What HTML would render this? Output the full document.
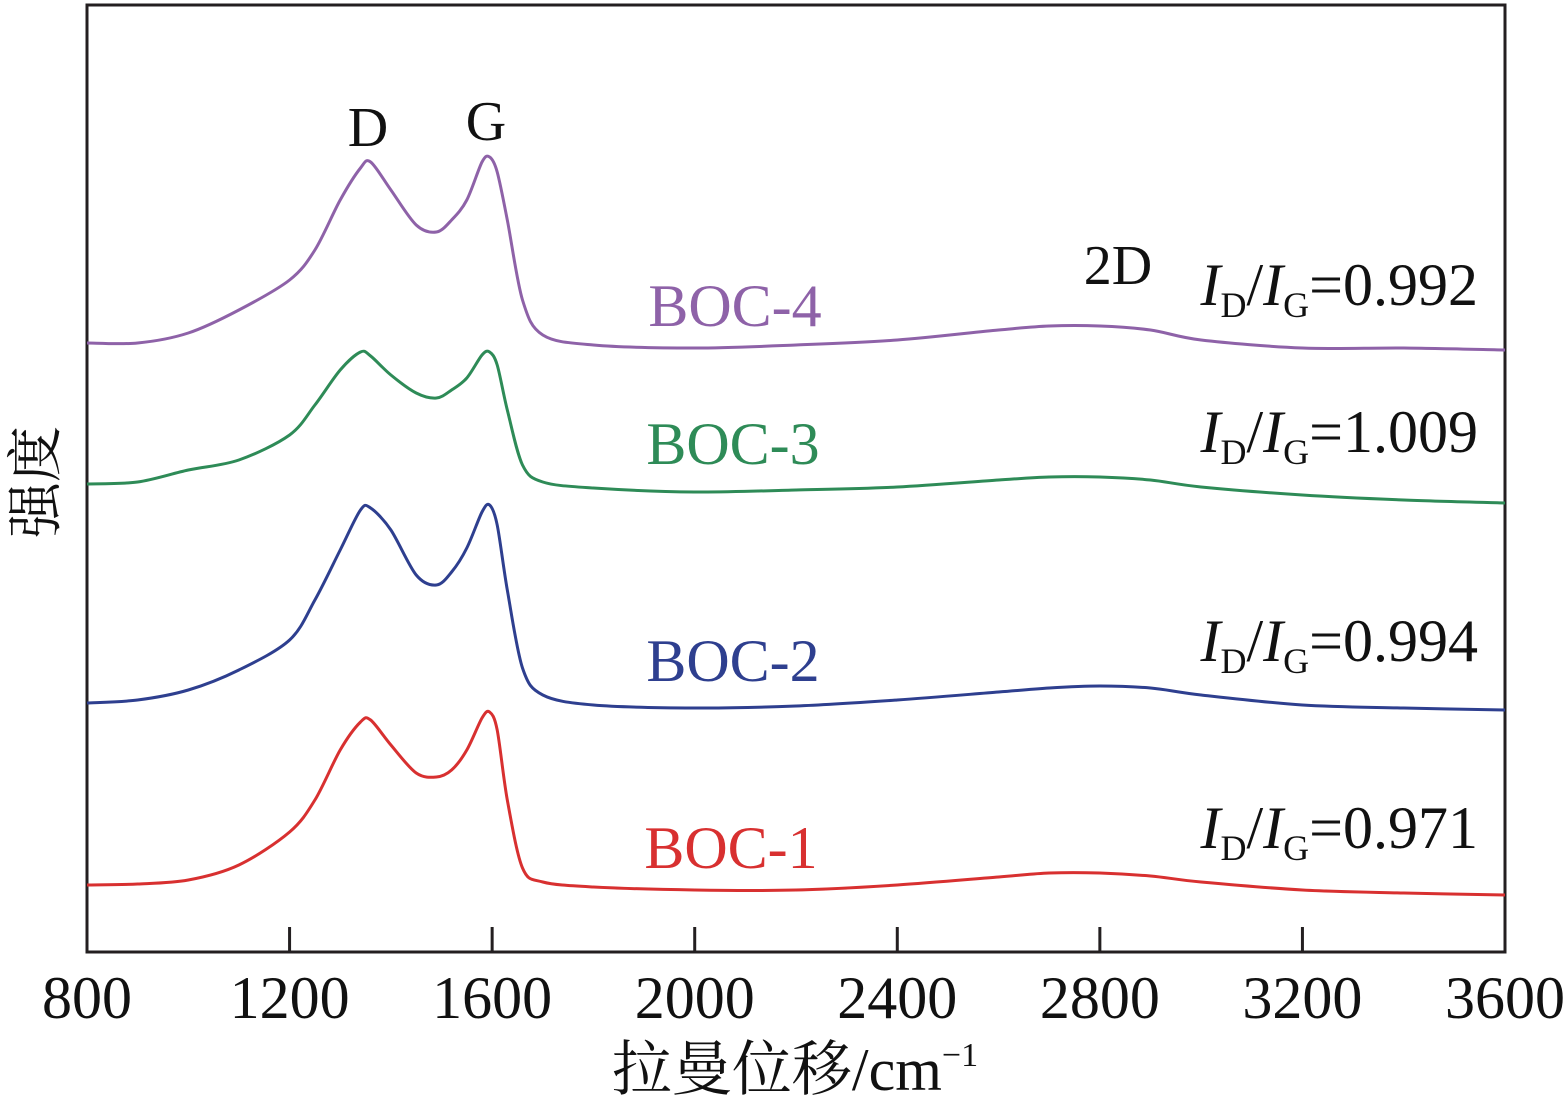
<!DOCTYPE html>
<html><head><meta charset="utf-8"><style>
html,body{margin:0;padding:0;background:#fff;}
svg{display:block;font-family:"Liberation Serif","Noto Serif CJK SC",serif;}
</style></head><body>
<svg id="chart" width="1567" height="1098" viewBox="0 0 1567 1098">
<rect x="87" y="5" width="1418" height="947" fill="none" stroke="#231f20" stroke-width="3"/>
<g id="ticks"></g>
<g id="series"></g>
<text x="368" y="146" font-size="56" text-anchor="middle" fill="#111">D</text>
<text x="486" y="140" font-size="56" text-anchor="middle" fill="#111">G</text>
<text x="1118" y="284" font-size="56" text-anchor="middle" fill="#111">2D</text>
<text x="735" y="326" font-size="60" text-anchor="middle" fill="#8e62a8">BOC-4</text>
<text x="733" y="464" font-size="60" text-anchor="middle" fill="#2e8b57">BOC-3</text>
<text x="733" y="681" font-size="60" text-anchor="middle" fill="#2e3f8f">BOC-2</text>
<text x="731" y="868" font-size="60" text-anchor="middle" fill="#d83030">BOC-1</text>
<g font-size="60" fill="#111" text-anchor="end">
<text x="1478" y="305"><tspan font-style="italic">I</tspan><tspan font-size="36" dy="12">D</tspan><tspan dy="-12">/</tspan><tspan font-style="italic">I</tspan><tspan font-size="36" dy="12">G</tspan><tspan dy="-12">=0.992</tspan></text>
<text x="1478" y="452"><tspan font-style="italic">I</tspan><tspan font-size="36" dy="12">D</tspan><tspan dy="-12">/</tspan><tspan font-style="italic">I</tspan><tspan font-size="36" dy="12">G</tspan><tspan dy="-12">=1.009</tspan></text>
<text x="1478" y="661"><tspan font-style="italic">I</tspan><tspan font-size="36" dy="12">D</tspan><tspan dy="-12">/</tspan><tspan font-style="italic">I</tspan><tspan font-size="36" dy="12">G</tspan><tspan dy="-12">=0.994</tspan></text>
<text x="1478" y="848"><tspan font-style="italic">I</tspan><tspan font-size="36" dy="12">D</tspan><tspan dy="-12">/</tspan><tspan font-style="italic">I</tspan><tspan font-size="36" dy="12">G</tspan><tspan dy="-12">=0.971</tspan></text>
</g>
<text x="795" y="1090" font-size="60" text-anchor="middle" fill="#111">拉曼位移/cm<tspan font-size="34" dy="-24">−1</tspan></text>
<text transform="translate(55,482) rotate(-90)" font-size="56" text-anchor="middle" fill="#111">强度</text>
</svg>
<script>
const xTicks=[800,1200,1600,2000,2400,2800,3200,3600];
const wavenumbers=[800,900,1000,1100,1200,1250,1300,1340,1360,1400,1450,1490,1520,1550,1580,1595,1610,1630,1660,1700,1800,2000,2200,2400,2600,2700,2800,2900,3000,3200,3400,3600];
const boc4=[343,343,333,310,280,250,200,168,162,190,225,232,220,200,162,157,172,220,300,335,345,348,345,340,330,326,326,330,340,348,348,350];
const boc3=[484,482,470,460,435,405,370,352,356,375,393,398,390,378,355,352,365,410,465,482,488,492,490,487,480,477,477,480,487,495,500,503];
const boc2=[703,700,690,670,640,600,550,510,508,530,575,585,572,548,512,505,525,590,668,695,705,708,706,700,692,688,686,688,695,705,708,710];
const boc1=[885,884,880,865,832,800,750,722,720,745,773,777,770,750,718,712,730,800,868,882,887,890,890,885,877,873,873,876,882,890,893,895];
const seriesNames=['boc-1','boc-2','boc-3','boc-4'];
const seriesColors=['#d83030','#2e3f8f','#2e8b57','#8e62a8'];
const toI=v=>(952-v)/9.47;
const seriesData=[boc1,boc2,boc3,boc4].map(a=>a.map(toI));
const X0=87,X1=1505,Y0=952,Y1=5;
const xs=v=>X0+(v-800)/(3600-800)*(X1-X0);
const ys=v=>Y0-v/100*(Y0-Y1);
const NS='http://www.w3.org/2000/svg';
const tg=document.getElementById('ticks');
xTicks.forEach(t=>{
  const x=xs(t);
  if(t!==800&&t!==3600){
    const l=document.createElementNS(NS,'line');
    l.setAttribute('x1',x);l.setAttribute('x2',x);l.setAttribute('y1',Y0);l.setAttribute('y2',Y0-25);
    l.setAttribute('stroke','#231f20');l.setAttribute('stroke-width','3');
    
    
    tg.appendChild(l);
  }
  const tx=document.createElementNS(NS,'text');
  tx.setAttribute('x',x);tx.setAttribute('y',1018);tx.setAttribute('font-size','60');
  tx.setAttribute('text-anchor','middle');tx.setAttribute('fill','#111');
  tx.textContent=t;
  
  
  tg.appendChild(tx);
});
function smoothPath(pts){
  let d='M'+pts[0][0].toFixed(1)+','+pts[0][1].toFixed(1);
  for(let i=0;i<pts.length-1;i++){
    const p0=pts[Math.max(i-1,0)],p1=pts[i],p2=pts[i+1],p3=pts[Math.min(i+2,pts.length-1)];
    const t=0.16;
    const c1=[p1[0]+(p2[0]-p0[0])*t,p1[1]+(p2[1]-p0[1])*t];
    const c2=[p2[0]-(p3[0]-p1[0])*t,p2[1]-(p3[1]-p1[1])*t];
    d+=' C'+c1[0].toFixed(1)+','+c1[1].toFixed(1)+' '+c2[0].toFixed(1)+','+c2[1].toFixed(1)+' '+p2[0].toFixed(1)+','+p2[1].toFixed(1);
  }
  return d;
}
const sg=document.getElementById('series');
seriesData.forEach((arr,i)=>{
  const p=document.createElementNS(NS,'path');
  p.setAttribute('d',smoothPath(arr.map((v,j)=>[xs(wavenumbers[j]),ys(v)])));
  p.setAttribute('fill','none');p.setAttribute('stroke',seriesColors[i]);
  p.setAttribute('stroke-width','3');p.setAttribute('stroke-linejoin','round');
  
  
  sg.appendChild(p);
});
</script>
</body></html>
